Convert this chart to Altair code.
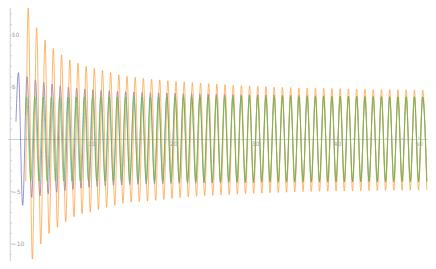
import altair as alt
import pandas as pd

# ---- values ----
PERIOD = 1.0094          # time units per oscillation
GREEN_FIRST_PEAK = 2.0   # time of first green maximum

# blue: opening points (t, value) before the regular cycles
blue_head = [(0.7, 1.7), (1.0, 6.4), (1.52, -6.3)]
blue_peaks = [6.0, 5.7, 5.46, 5.3, 5.14, 5.0, 4.9, 4.8, 4.76, 4.7, 4.65, 4.6, 4.57, 4.54, 4.5,
              4.48, 4.46, 4.44, 4.42, 4.4, 4.38, 4.36, 4.34, 4.32, 4.3, 4.29, 4.28, 4.27, 4.26,
              4.25, 4.24, 4.23, 4.22, 4.21, 4.2, 4.19, 4.18, 4.17, 4.16, 4.15, 4.14, 4.13, 4.12,
              4.11, 4.1, 4.1, 4.09, 4.09, 4.08]
blue_troughs = [-5.55, -5.4, -5.2, -5.05, -4.9, -4.78, -4.66, -4.57, -4.5, -4.44, -4.39, -4.35,
                -4.32, -4.29, -4.27, -4.25, -4.23, -4.21, -4.2, -4.19, -4.18, -4.17, -4.16, -4.15,
                -4.14, -4.13, -4.13, -4.12, -4.12, -4.11, -4.11, -4.1, -4.1, -4.09, -4.09, -4.08,
                -4.08, -4.08, -4.07, -4.07, -4.07, -4.06, -4.06, -4.06, -4.05, -4.05, -4.05, -4.05,
                -4.04]
blue_peak_lag = [0.05, 0.07, 0.08, 0.1, 0.08, 0.07, 0.06, 0.05, 0.04, 0.03, 0.02, 0.01]
blue_trough_lag = [0.12, 0.12, 0.12, 0.15, 0.15, 0.12, 0.1, 0.08, 0.06, 0.04, 0.03, 0.02, 0.01]

orange_head = [(1.9, -4.0)]
orange_peaks = [12.58, 10.7, 9.5, 8.7, 8.1, 7.6, 7.3, 7.0, 6.8, 6.6, 6.4, 6.2, 6.05, 5.95, 5.85,
                5.77, 5.7, 5.63, 5.57, 5.51, 5.45, 5.4, 5.35, 5.3, 5.25, 5.2, 5.16, 5.12, 5.08,
                5.05, 5.02, 4.99, 4.96, 4.94, 4.93, 4.91, 4.89, 4.87, 4.86, 4.84, 4.83, 4.81, 4.8,
                4.78, 4.77, 4.76, 4.75, 4.74, 4.73]
orange_troughs = [-11.44, -10.0, -9.0, -8.4, -7.9, -7.4, -7.1, -6.95, -6.7, -6.5, -6.3, -6.1,
                  -6.0, -5.95, -5.9, -5.83, -5.74, -5.65, -5.57, -5.5, -5.44, -5.4, -5.35, -5.31,
                  -5.27, -5.24, -5.2, -5.17, -5.14, -5.11, -5.08, -5.05, -5.02, -5.0, -4.98, -4.96,
                  -4.95, -4.94, -4.93, -4.92, -4.91, -4.9, -4.89, -4.88, -4.87, -4.86, -4.85, -4.84,
                  -4.83]
orange_lag = [0.2, 0.22, 0.23, 0.24, 0.24, 0.24, 0.23, 0.22, 0.21, 0.2, 0.19, 0.18, 0.17, 0.16,
              0.15, 0.14, 0.13, 0.12, 0.11, 0.1, 0.09, 0.08, 0.07, 0.06, 0.05, 0.04, 0.03, 0.02,
              0.01]

green_head = [(1.85, 2.4)]
green_peaks = [4.06, 4.06, 4.06, 4.06, 4.06, 4.06, 4.06, 4.06, 4.06, 4.06, 4.06, 4.06, 4.06,
               4.06, 4.06, 4.06, 4.06, 4.06, 4.06, 4.06, 4.06, 4.06, 4.06, 4.06, 4.06, 4.06,
               4.06, 4.06, 4.06, 4.06, 4.06, 4.06, 4.06, 4.06, 4.06, 4.06, 4.06, 4.06, 4.06,
               4.06, 4.06, 4.06, 4.06, 4.06, 4.06, 4.06, 4.06, 4.06, 4.06]
green_troughs = [-3.97, -3.97, -3.97, -3.97, -3.97, -3.97, -3.97, -3.97, -3.97, -3.97, -3.97,
                 -3.97, -3.97, -3.97, -3.97, -3.97, -3.97, -3.97, -3.97, -3.97, -3.97, -3.97,
                 -3.97, -3.97, -3.97, -3.97, -3.97, -3.97, -3.97, -3.97, -3.97, -3.97, -3.97,
                 -3.97, -3.97, -3.97, -3.97, -3.97, -3.97, -3.97, -3.97, -3.97, -3.97, -3.97,
                 -3.97, -3.97, -3.97, -3.97, -3.97]

x_tick_labels = [10, 20, 30, 40, 50]
y_tick_labels = [-10, -5, 5, 10]
x_minor = [2, 4, 6, 8, 12, 14, 16, 18, 22, 24, 26, 28, 32, 34, 36, 38, 42, 44, 46, 48]
y_minor = [-11, -9, -8, -7, -6, -4, -3, -2, -1, 1, 2, 3, 4, 6, 7, 8, 9, 11, 12]

series_names = ["blue", "orange", "green"]
series_colors = ["#6262c8", "#ff9628", "#58c42a"]


def build(name, head, peaks, troughs, plag, tlag):
    rows = [(t, v) for t, v in head]
    for k in range(len(peaks)):
        pl = plag[k] if k < len(plag) else 0.0
        tl = tlag[k] if k < len(tlag) else 0.0
        rows.append((GREEN_FIRST_PEAK + k * PERIOD + pl, peaks[k]))
        rows.append((GREEN_FIRST_PEAK + (k + 0.5) * PERIOD + tl, troughs[k]))
    return pd.DataFrame({"t": [r[0] for r in rows], "v": [r[1] for r in rows],
                         "series": name, "i": list(range(len(rows)))})


df = pd.concat([
    build("blue", blue_head, blue_peaks, blue_troughs, blue_peak_lag, blue_trough_lag),
    build("orange", orange_head, orange_peaks, orange_troughs, orange_lag, orange_lag),
    build("green", green_head, green_peaks, green_troughs, [], []),
], ignore_index=True)

XD = [-0.275, 51.1]
YD = [-11.63, 12.58]
xs = alt.Scale(domain=XD, nice=False, zero=False)
ys = alt.Scale(domain=YD, nice=False, zero=False)
AX = "#cfcfcf"
TXT = "#a0a0a0"

xaxis_df = pd.DataFrame({"x1": [XD[0]], "x2": [XD[1]], "y": [0.0]})
yaxis_df = pd.DataFrame({"x": [0.0], "y1": [YD[0]], "y2": [YD[1]]})
x_axis = alt.Chart(xaxis_df).mark_rule(color=AX, strokeWidth=1).encode(
    x=alt.X("x1:Q", scale=xs, axis=None), x2="x2:Q", y=alt.Y("y:Q", scale=ys, axis=None))
y_axis = alt.Chart(yaxis_df).mark_rule(color=AX, strokeWidth=1).encode(
    y=alt.Y("y1:Q", scale=ys, axis=None), y2="y2:Q", x=alt.X("x:Q", scale=xs, axis=None))

xt = pd.DataFrame({"t": x_tick_labels, "z": 0.0, "z2": 0.28})
xm = pd.DataFrame({"t": x_minor, "z": 0.0, "z2": 0.16})
yt = pd.DataFrame({"v": y_tick_labels, "z": 0.0, "z2": 0.4})
ym = pd.DataFrame({"v": y_minor, "z": 0.0, "z2": 0.22})

x_ticks = alt.Chart(pd.concat([xt, xm], ignore_index=True)).mark_rule(
    color=AX, strokeWidth=1).encode(
    x=alt.X("t:Q", scale=xs, axis=None), y=alt.Y("z:Q", scale=ys, axis=None), y2="z2:Q")
y_ticks = alt.Chart(pd.concat([yt, ym], ignore_index=True)).mark_rule(
    color=AX, strokeWidth=1).encode(
    y=alt.Y("v:Q", scale=ys, axis=None), x=alt.X("z:Q", scale=xs, axis=None), x2="z2:Q")

x_labels = alt.Chart(xt).mark_text(fontSize=6, color=TXT, baseline="middle", dy=4.5,
                                   font="DejaVu Sans").encode(
    x=alt.X("t:Q", scale=xs, axis=None), y=alt.Y("z:Q", scale=ys, axis=None), text="t:Q")
y_labels = alt.Chart(yt).mark_text(fontSize=6, color=TXT, align="left", baseline="middle",
                                   dx=1.5, font="DejaVu Sans").encode(
    y=alt.Y("v:Q", scale=ys, axis=None), x=alt.X("z:Q", scale=xs, axis=None), text="v:Q")

line_layers = []
for name, col in zip(series_names, series_colors):
    sub = df[df["series"] == name]
    line_layers.append(
        alt.Chart(sub).mark_line(interpolate="monotone", strokeWidth=0.85, opacity=0.8,
                                 color=col).encode(
            x=alt.X("t:Q", scale=xs, axis=None),
            y=alt.Y("v:Q", scale=ys, axis=None),
            order="i:Q",
        )
    )

chart = alt.layer(x_axis, y_axis, x_ticks, y_ticks, *line_layers, x_labels, y_labels).properties(
    width=420, height=253
).configure(padding=0, autosize=alt.AutoSizeParams(type="none")).configure_view(stroke=None)

chart.save("out.html", embed_options={"renderer": "svg", "actions": False})
